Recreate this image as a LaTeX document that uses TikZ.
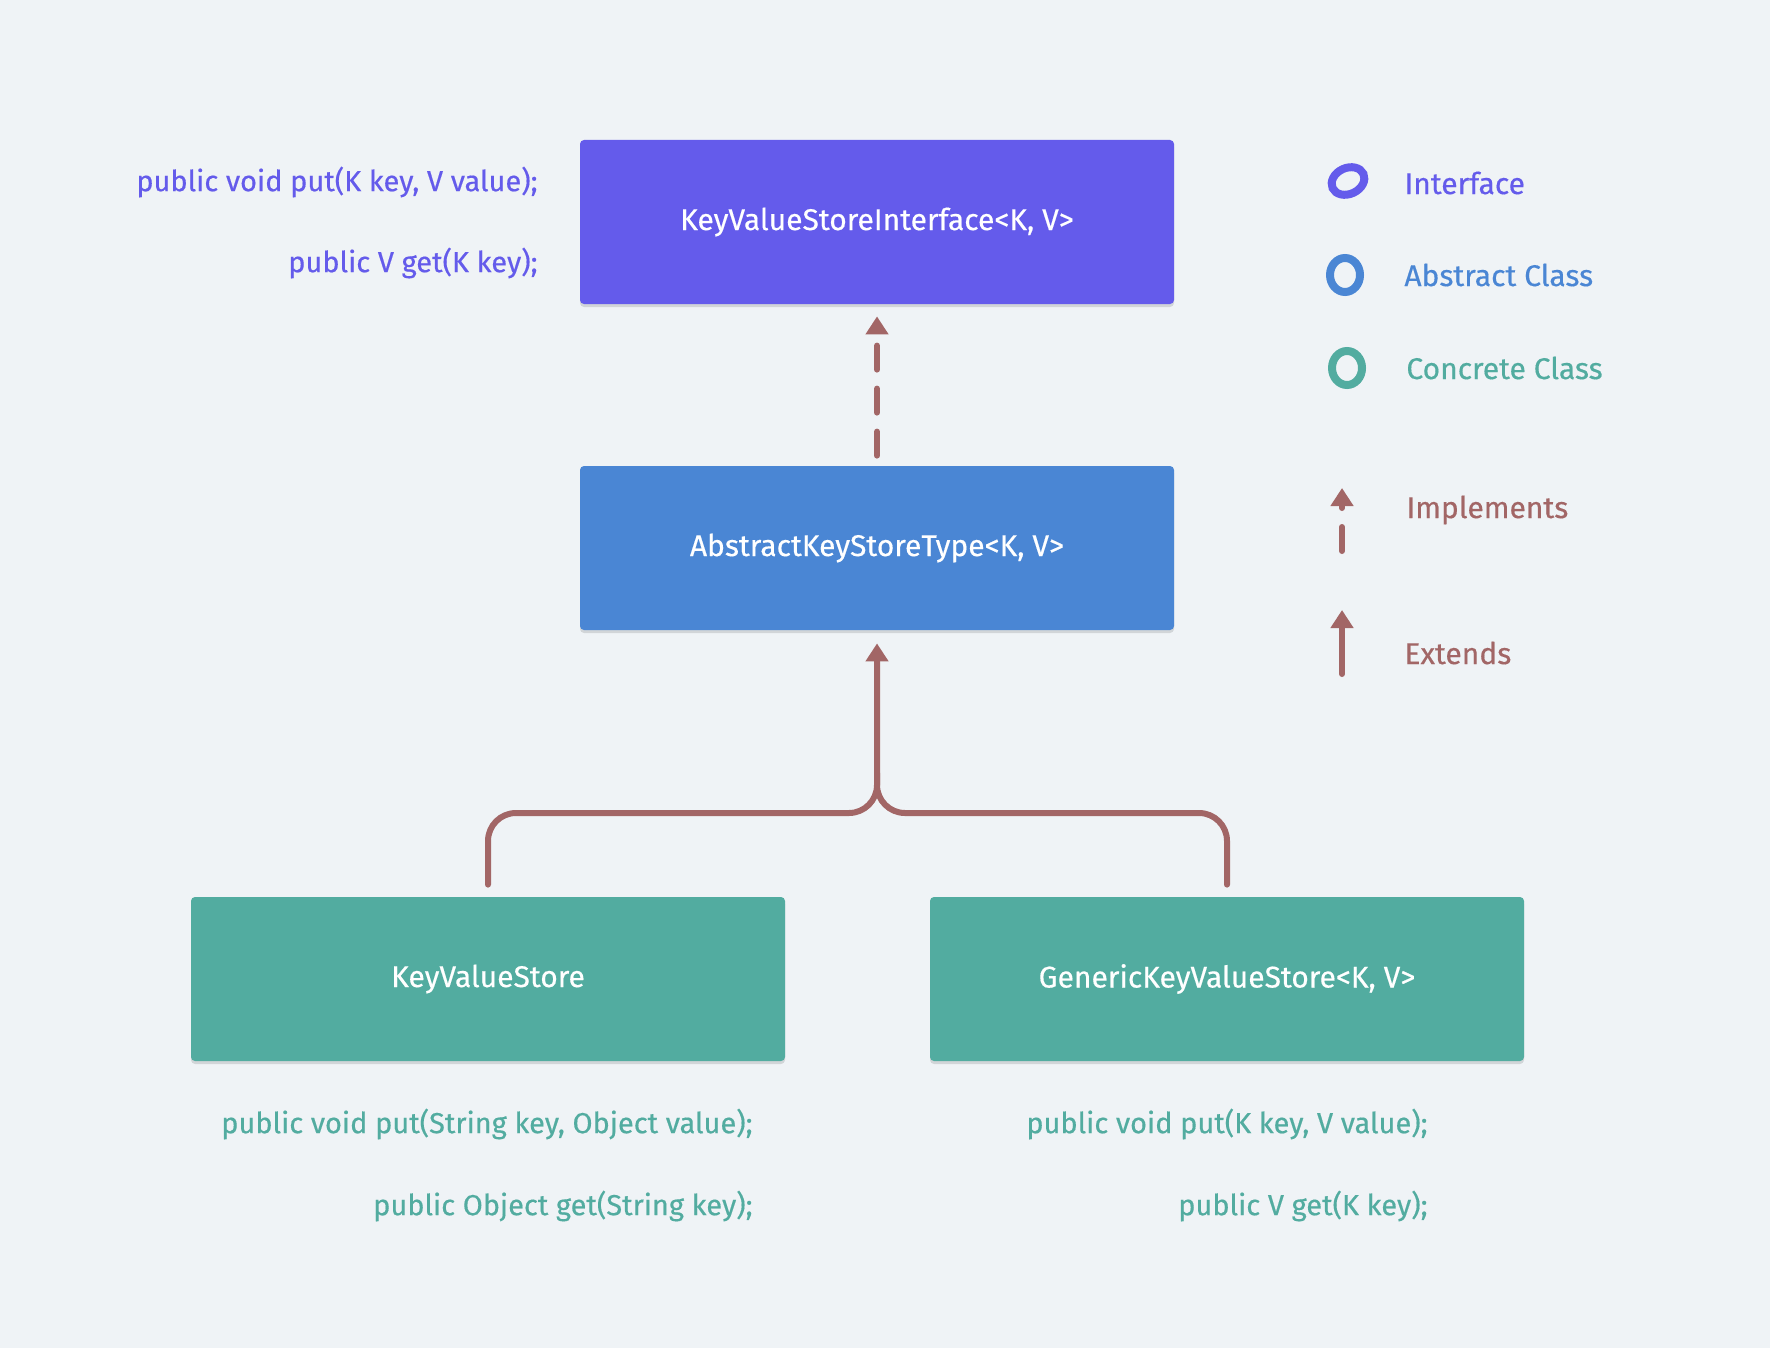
\documentclass[tikz,border=0pt]{standalone}
\usepackage{fontspec}
\setmainfont{Fira Sans}[FakeBold=0.4]
\usetikzlibrary{arrows.meta,shadows,positioning}
\definecolor{bgcol}{HTML}{EFF3F6}
\definecolor{ifacecol}{HTML}{645BEB}
\definecolor{abstcol}{HTML}{4A86D4}
\definecolor{conccol}{HTML}{52ACA0}
\definecolor{relcol}{HTML}{A26666}
\tikzset{
  classbox/.style={rectangle, rounded corners=2pt, minimum width=297pt, minimum height=82pt,
    text=white, font=\fontsize{15}{18}\selectfont,
    drop shadow={shadow xshift=0pt, shadow yshift=-1.5pt, opacity=0.12, fill=black}},
  codetxt/.style={anchor=east, inner sep=0pt, font=\fontsize{14.5}{17}\selectfont},
  legtxt/.style={anchor=west, inner sep=0pt, font=\fontsize{15}{18}\selectfont},
  extline/.style={draw=relcol, line width=3pt, line cap=round},
  extarrow/.style={extline, -{Triangle[width=11pt,length=9pt]}},
  implarrow/.style={extarrow, dash pattern=on 12pt off 9.5pt},
  blob/.style={line width=4pt},
}
\begin{document}
\begin{tikzpicture}[x=0.5pt,y=-0.5pt]
  \fill[bgcol] (0,0) rectangle (1770,1348);
  \useasboundingbox (0,0) rectangle (1770,1348);
  % classes
  \node[classbox, fill=ifacecol] (iface) at (877,222) {KeyValueStoreInterface<K, V>};
  \node[classbox, fill=abstcol] (abst) at (877,548) {AbstractKeyStoreType<K, V>};
  \node[classbox, fill=conccol] (kvs) at (488,979) {KeyValueStore};
  \node[classbox, fill=conccol] (gkvs) at (1227,979) {GenericKeyValueStore<K, V>};
  % methods
  \node[codetxt, text=ifacecol] (ifput) at (538,182) {public void put(K key, V value);};
  \node[codetxt, text=ifacecol] (ifget) at (538,263) {public V get(K key);};
  \node[codetxt, text=conccol] (kvput) at (753,1124) {public void put(String key, Object value);};
  \node[codetxt, text=conccol] (kvget) at (753,1206) {public Object get(String key);};
  \node[codetxt, text=conccol] (gkput) at (1428,1124) {public void put(K key, V value);};
  \node[codetxt, text=conccol] (gkget) at (1428,1206) {public V get(K key);};
  % relations
  \draw[implarrow] ([yshift=5pt]abst.north) -- ([yshift=-6pt]iface.south);
  \coordinate (fork) at (877,813);
  \draw[extarrow, rounded corners=14pt] ([yshift=6pt]kvs.north) |- (fork) -- ([yshift=-6.5pt]abst.south);
  \draw[extline, rounded corners=14pt] ([yshift=6pt]gkvs.north) |- (fork) -- ++(0,-40);
  % legend
  \draw[blob, ifacecol] (1348,181) ellipse [x radius=8.5pt, y radius=6.5pt, rotate=25];
  \draw[blob, abstcol] (1345,275) ellipse [x radius=7.5pt, y radius=8.5pt];
  \draw[blob, conccol] (1347,368) ellipse [x radius=7.5pt, y radius=8.5pt];
  \node[legtxt, text=ifacecol] (lgiface) at (1404,183) {Interface};
  \node[legtxt, text=abstcol] (lgabst) at (1404,275) {Abstract Class};
  \node[legtxt, text=conccol] (lgconc) at (1406,368) {Concrete Class};
  \coordinate (impltail) at (1342,551);
  \coordinate (implhead) at (1342,488);
  \draw[implarrow] (impltail) -- (implhead);
  \node[legtxt, text=relcol] (lgimpl) at (1406,510) {Implements};
  \coordinate (exttail) at (1342,674);
  \coordinate (exthead) at (1342,610);
  \draw[extarrow] (exttail) -- (exthead);
  \node[legtxt, text=relcol] (lgext) at (1404,653) {Extends};
\end{tikzpicture}
\end{document}
